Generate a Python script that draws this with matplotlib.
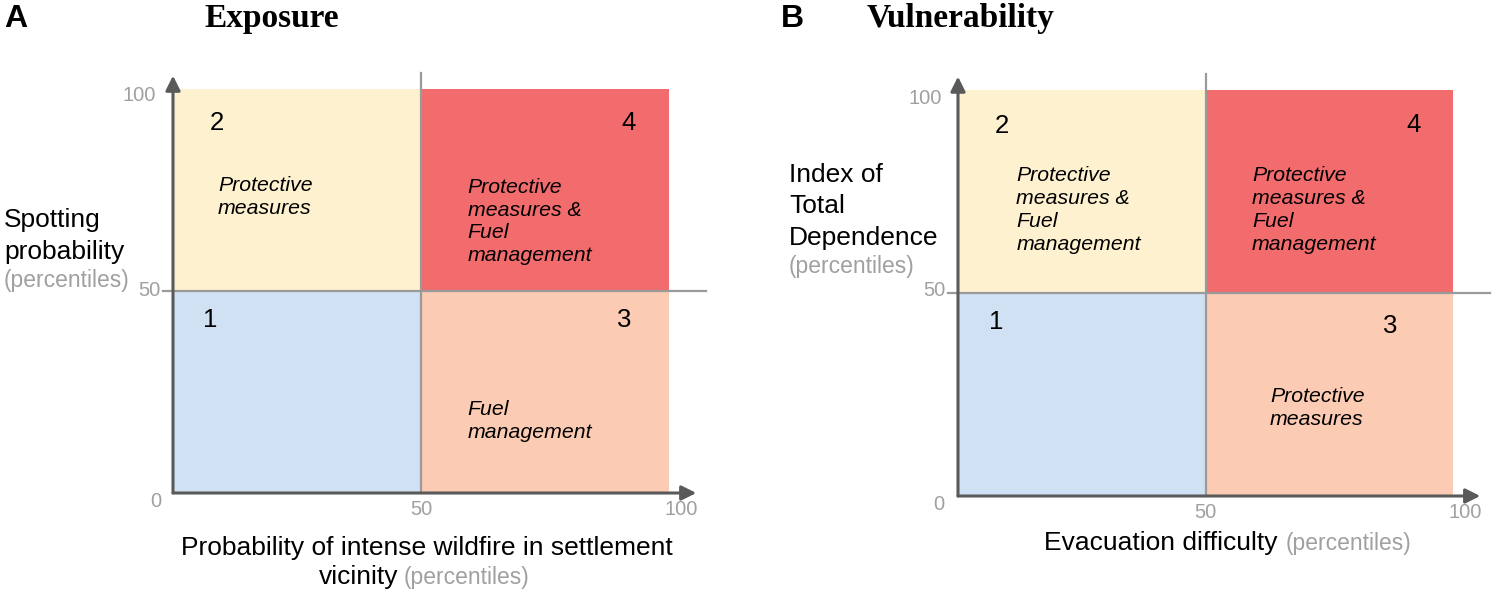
import matplotlib.pyplot as plt

plt.rcParams['font.family'] = ['Liberation Sans', 'DejaVu Sans']

W, H = 1495, 596

# quadrants: lower-left x, lower-left y, size, colour, number
QUAD_X0 = [0, 0, 50, 50]
QUAD_Y0 = [0, 50, 0, 50]
QUAD_SIZE = 50
QUAD_COLORS = ['#cfe1f2', '#fdf1cf', '#fccbb3', '#f26b6d']
QUAD_NUMS = ['1', '2', '3', '4']

TICK_LABELS = ['0', '50', '100', '50', '100']

EXPOSURE_TEXT = {'2': 'Protective\nmeasures',
                 '4': 'Protective\nmeasures &\nFuel\nmanagement',
                 '3': 'Fuel\nmanagement'}
VULN_TEXT = {'2': 'Protective\nmeasures &\nFuel\nmanagement',
             '4': 'Protective\nmeasures &\nFuel\nmanagement',
             '3': 'Protective\nmeasures'}

AXIS_C = '#5a5a5a'
DIV_C = '#9a9a9a'
TICK_C = '#a0a0a0'


def fig_text(px, py, s, **kw):
    return fig.text(px / W, 1 - py / H, s, **kw)


def panel(box, num_pos, txt, txt_pos, tick_pos):
    l, t, r, b = box
    ax = fig.add_axes([l / W, 1 - b / H, (r - l) / W, (b - t) / H])
    ax.set_xlim(0, 100)
    ax.set_ylim(0, 100)
    ax.axis('off')
    ax.bar(QUAD_X0, QUAD_SIZE, width=QUAD_SIZE, bottom=QUAD_Y0,
           align='edge', color=QUAD_COLORS, linewidth=0, zorder=1)
    # dividers
    ax.plot([50, 50], [0, 104], color=DIV_C, lw=1.6, clip_on=False, zorder=2)
    ax.plot([-2, 107.5], [50, 50], color=DIV_C, lw=1.6, clip_on=False, zorder=2)
    # axes with arrows
    ax.annotate('', xy=(105.5, 0), xytext=(0, 0), annotation_clip=False,
                arrowprops=dict(arrowstyle='-|>', color=AXIS_C, lw=2.2,
                                mutation_scale=22, shrinkA=0, shrinkB=0), zorder=3)
    ax.annotate('', xy=(0, 103.3), xytext=(0, 0), annotation_clip=False,
                arrowprops=dict(arrowstyle='-|>', color=AXIS_C, lw=2.2,
                                mutation_scale=22, shrinkA=0, shrinkB=0), zorder=3)
    for n, (x, y) in zip(QUAD_NUMS, num_pos):
        ax.text(x, y, n, fontsize=18.5, ha='center', va='center', zorder=4)
    for k, (x, y) in txt_pos.items():
        ax.text(x, y, txt[k], fontsize=15.3, style='italic', ha='left',
                va='center', linespacing=1.26, zorder=4)
    # tick labels
    for (x, y, ha), v in zip(tick_pos, TICK_LABELS):
        ax.text(x, y, v, fontsize=14.5, color=TICK_C, ha=ha, va='center')
    return ax


fig = plt.figure(figsize=(W / 100, H / 100), dpi=100)

# panel A
panel((173, 89, 669, 493),
      [(7.5, 42.7), (8.9, 91.6), (90.9, 42.7), (91.9, 91.6)],
      EXPOSURE_TEXT,
      {'2': (9.1, 73.3), '4': (59.4, 67.2), '3': (59.4, 17.9)},
      [(-3.4, -2.2, 'center'), (-2.6, 50.2, 'right'), (-3.4, 98.3, 'right'),
       (50, -4.1, 'center'), (102.4, -4.0, 'center')])
fig_text(16, 19, 'A', fontsize=23, fontweight='bold', ha='center', va='center')
fig_text(272, 19, 'Exposure', fontsize=24, fontweight='bold', family='Liberation Serif',
         ha='center', va='center')
for py, s, c, fs in [(227, 'Spotting', 'black', 19), (259, 'probability', 'black', 19),
                     (287, '(percentiles)', TICK_C, 16.5)]:
    fig_text(4, py, s, fontsize=fs, color=c, ha='left', va='baseline')
fig_text(427, 555, 'Probability of intense wildfire in settlement', fontsize=19,
         ha='center', va='baseline')
fig_text(398, 584, 'vicinity', fontsize=19, ha='right', va='baseline')
fig_text(404, 584, '(percentiles)', fontsize=16.5, color=TICK_C, ha='left', va='baseline')

# panel B
panel((958, 90, 1453, 496),
      [(7.7, 42.9), (8.9, 91.1), (87.3, 41.9), (92.1, 91.4)],
      VULN_TEXT,
      {'2': (11.8, 70.4), '4': (59.4, 70.4), '3': (63.0, 21.6)},
      [(-3.8, -2.0, 'center'), (-2.6, 50.5, 'right'), (-3.2, 98.0, 'right'),
       (50, -4.1, 'center'), (102.4, -4.0, 'center')])
fig_text(792, 19, 'B', fontsize=23, fontweight='bold', ha='center', va='center')
fig_text(961, 19, 'Vulnerability', fontsize=24, fontweight='bold', family='Liberation Serif',
         ha='center', va='center')
for py, s, c, fs in [(182, 'Index of', 'black', 19), (213, 'Total', 'black', 19),
                     (245, 'Dependence', 'black', 19), (273, '(percentiles)', TICK_C, 16.5)]:
    fig_text(789, py, s, fontsize=fs, color=c, ha='left', va='baseline')
fig_text(1278, 550, 'Evacuation difficulty', fontsize=19, ha='right', va='baseline')
fig_text(1286, 550, '(percentiles)', fontsize=16.5, color=TICK_C, ha='left', va='baseline')

plt.savefig('out.png', dpi=100)
